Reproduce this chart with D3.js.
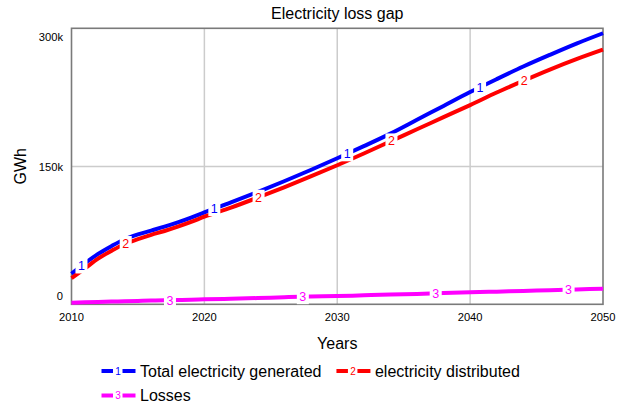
<!DOCTYPE html>
<html>
<head>
<meta charset="utf-8">
<script src="https://cdn.jsdelivr.net/npm/d3@7"></script>
<style>
  body { margin: 0; background: #fff; }
  text { font-family: "Liberation Sans", Arial, sans-serif; }
</style>
</head>
<body>
<div id="chart"></div>
<script>
(function() {

const width = 628, height = 412;

// data (thousand GWh)
const years = [2010, 2011, 2012, 2013, 2014, 2015, 2016, 2017, 2018, 2019, 2020,
  2022, 2024, 2026, 2028, 2030, 2032, 2034, 2036, 2038, 2040, 2042, 2044, 2046, 2048, 2050];
const generated = [26, 38, 49, 58, 66, 71.5, 76, 80.5, 85.5, 91, 97,
  108.5, 120.5, 133, 146, 159.5, 173.5, 188, 204, 220, 236, 251, 265.5, 279, 292, 304];
const distributed = [21, 32, 43.5, 52.5, 60.5, 66, 71, 75.5, 80.5, 86, 92,
  102.5, 114, 126, 138.5, 151.5, 165, 179, 193, 207, 221, 235.5, 249, 262, 274, 285];
const losses = [-7.3, -6.9, -6.5, -6.1, -5.7, -5.3, -4.9, -4.6, -4.2, -3.9, -3.5,
  -2.8, -2.0, -1.0, -0.2, 0.3, 1.2, 2.0, 2.8, 3.8, 4.6, 5.4, 6.3, 7.0, 7.9, 8.8];

const seriesNames = ["Total electricity generated", "electricity distributed", "Losses"];
const seriesColors = ["#0000ff", "#ff0000", "#ff00ff"];
const xTicks = [2010, 2020, 2030, 2040, 2050];
const yTicks = [0, 150000, 300000];
const yTickLabels = ["0", "150k", "300k"];

const series = [generated, distributed, losses].map((vals, i) => ({
  name: seriesNames[i],
  color: seriesColors[i],
  num: i + 1,
  values: years.map((y, j) => ({ year: y, value: vals[j] * 1000 }))
}));

const margin = { left: 71.5, right: 25, top: 28.3, bottom: 107.7 };

const svg = d3.select("#chart")
  .append("svg")
  .attr("width", width)
  .attr("height", height);

const x = d3.scaleLinear()
  .domain([2010, 2050])
  .range([margin.left, width - margin.right]);

const y = d3.scaleLinear()
  .domain([-9200, 309700])
  .range([height - margin.bottom, margin.top]);

// gridlines
svg.append("g")
  .selectAll("line")
  .data(xTicks.slice(1, -1))
  .join("line")
  .attr("x1", d => x(d)).attr("x2", d => x(d))
  .attr("y1", y.range()[0]).attr("y2", y.range()[1])
  .attr("stroke", "#cccccc")
  .attr("stroke-width", 1.5);

svg.append("g")
  .selectAll("line")
  .data([150000])
  .join("line")
  .attr("x1", x.range()[0]).attr("x2", x.range()[1])
  .attr("y1", d => y(d)).attr("y2", d => y(d))
  .attr("stroke", "#cccccc")
  .attr("stroke-width", 1.5);

// frame
svg.append("rect")
  .attr("x", x.range()[0])
  .attr("y", y.range()[1])
  .attr("width", x.range()[1] - x.range()[0])
  .attr("height", y.range()[0] - y.range()[1])
  .attr("fill", "none")
  .attr("stroke", "#7a7a7a")
  .attr("stroke-width", 1.6);

// ticks labels
svg.append("g")
  .selectAll("text")
  .data(xTicks)
  .join("text")
  .attr("x", d => x(d))
  .attr("y", y.range()[0] + 17)
  .attr("text-anchor", "middle")
  .attr("font-size", 11.2)
  .attr("fill", "#000")
  .text(d => d);

svg.append("g")
  .selectAll("text")
  .data(yTicks)
  .join("text")
  .attr("x", x.range()[0] - 8.5)
  .attr("y", d => y(d) + 4)
  .attr("text-anchor", "end")
  .attr("font-size", 11.2)
  .attr("fill", "#000")
  .text((d, i) => yTickLabels[i]);

// titles
svg.append("text")
  .attr("x", (x.range()[0] + x.range()[1]) / 2)
  .attr("y", 19)
  .attr("text-anchor", "middle")
  .attr("font-size", 16)
  .text("Electricity loss gap");

svg.append("text")
  .attr("x", (x.range()[0] + x.range()[1]) / 2)
  .attr("y", 349)
  .attr("text-anchor", "middle")
  .attr("font-size", 16)
  .text("Years");

svg.append("text")
  .attr("transform", `translate(26,${(y.range()[0] + y.range()[1]) / 2}) rotate(-90)`)
  .attr("text-anchor", "middle")
  .attr("font-size", 16)
  .text("GWh");

// lines
const line = d3.line()
  .x(d => x(d.year))
  .y(d => y(d.value))
  .curve(d3.curveMonotoneX);

const paths = svg.append("g")
  .selectAll("path")
  .data(series)
  .join("path")
  .attr("fill", "none")
  .attr("stroke", d => d.color)
  .attr("stroke-width", 4)
  .attr("stroke-linejoin", "round")
  .attr("d", d => line(d.values));

// find y on a path for a given x
function pointAt(node, px) {
  const len = node.getTotalLength();
  let lo = 0, hi = len;
  for (let k = 0; k < 40; k++) {
    const mid = (lo + hi) / 2;
    if (node.getPointAtLength(mid).x < px) lo = mid; else hi = mid;
  }
  return node.getPointAtLength(lo);
}

// number markers on the lines
const labelG = svg.append("g");
paths.each(function(d, i) {
  const node = this;
  for (let k = 0; k < 4; k++) {
    const yr = 2010.75 + i * 3.33 + k * 10;
    if (yr > 2050) continue;
    const p = pointAt(node, x(yr));
    labelG.append("rect")
      .attr("x", p.x - 6)
      .attr("y", p.y - 7.5)
      .attr("width", 12)
      .attr("height", 15)
      .attr("fill", "#fff");
    labelG.append("text")
      .attr("x", p.x)
      .attr("y", p.y + 4.5)
      .attr("text-anchor", "middle")
      .attr("font-size", 12.5)
      .attr("fill", d.color)
      .text(d.num);
  }
});

// legend
const legend = svg.append("g");
const legendRows = [[0, 1], [2]];
legendRows.forEach((row, r) => {
  let lx = 101.5;
  const ly = 371 + r * 24.5;
  row.forEach(i => {
    const s = series[i];
    const g = legend.append("g");
    g.append("line")
      .attr("x1", lx).attr("x2", lx + 11.5)
      .attr("y1", ly).attr("y2", ly)
      .attr("stroke", s.color).attr("stroke-width", 4);
    g.append("text")
      .attr("x", lx + 16.5)
      .attr("y", ly + 3.5)
      .attr("text-anchor", "middle")
      .attr("font-size", 10)
      .attr("fill", s.color)
      .text(s.num);
    g.append("line")
      .attr("x1", lx + 21).attr("x2", lx + 34)
      .attr("y1", ly).attr("y2", ly)
      .attr("stroke", s.color).attr("stroke-width", 4);
    const t = g.append("text")
      .attr("x", lx + 38.5)
      .attr("y", ly + 5.5)
      .attr("font-size", 16)
      .attr("fill", "#000")
      .text(s.name);
    lx += 38.5 + t.node().getComputedTextLength() + 15;
  });
});

})();
</script>
</body>
</html>
